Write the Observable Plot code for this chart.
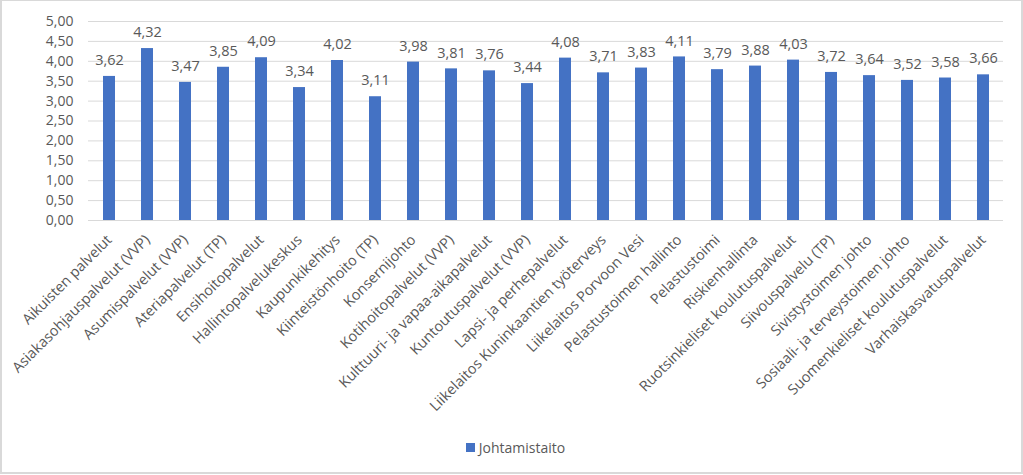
<!DOCTYPE html>
<html>
<head>
<meta charset="utf-8">
<script src="https://cdn.jsdelivr.net/npm/d3@7"></script>
<script src="https://cdn.jsdelivr.net/npm/@observablehq/plot@0.6"></script>
<style>
  html, body { margin: 0; padding: 0; background: #fff; }
  #frame {
    position: absolute; left: 0; top: 0;
    width: 1019px; height: 471px;
    border: 1px solid #d9d9d9; border-width: 1px 2px 2px 2px;
    background: #fff; font-family: "Open Sans", sans-serif;
  }
  #legend {
    height: 32px; display: flex; align-items: center; justify-content: center;
    font-size: 14px; color: #595959; padding-left: 8px;
  }
  #legend .sw { width: 9px; height: 9px; background: #4472C4; margin-right: 4px; display: inline-block; }
</style>
</head>
<body>
<div id="frame">
  <div id="chart"></div>
  <div id="legend"><span class="sw"></span><span id="legendText"></span></div>
</div>
<script>
const categories = [
  "Aikuisten palvelut",
  "Asiakasohjauspalvelut (VVP)",
  "Asumispalvelut (VVP)",
  "Ateriapalvelut (TP)",
  "Ensihoitopalvelut",
  "Hallintopalvelukeskus",
  "Kaupunkikehitys",
  "Kiinteistönhoito (TP)",
  "Konsernijohto",
  "Kotihoitopalvelut (VVP)",
  "Kulttuuri- ja vapaa-aikapalvelut",
  "Kuntoutuspalvelut (VVP)",
  "Lapsi- ja perhepalvelut",
  "Liikelaitos Kuninkaantien työterveys",
  "Liikelaitos Porvoon Vesi",
  "Pelastustoimen hallinto",
  "Pelastustoimi",
  "Riskienhallinta",
  "Ruotsinkieliset koulutuspalvelut",
  "Siivouspalvelu (TP)",
  "Sivistystoimen johto",
  "Sosiaali- ja terveystoimen johto",
  "Suomenkieliset koulutuspalvelut",
  "Varhaiskasvatuspalvelut"
];
const values = [3.62, 4.32, 3.47, 3.85, 4.09, 3.34, 4.02, 3.11, 3.98, 3.81, 3.76, 3.44,
                4.08, 3.71, 3.83, 4.11, 3.79, 3.88, 4.03, 3.72, 3.64, 3.52, 3.58, 3.66];
const seriesName = "Johtamistaito";
const yTicks = [0, 0.5, 1, 1.5, 2, 2.5, 3, 3.5, 4, 4.5, 5];

const data = categories.map((c, i) => ({category: c, value: values[i]}));
const fmt = v => v.toFixed(2).replace(".", ",");

const chart = Plot.plot({
  width: 1019,
  height: 430,
  marginLeft: 86,
  marginRight: 18,
  marginTop: 20,
  marginBottom: 211,
  style: {fontFamily: "'Open Sans', sans-serif", color: "#595959", background: "#fff"},
  x: {domain: categories, paddingInner: 0.69, paddingOuter: 0.345, label: null},
  y: {domain: [0, 5], label: null},
  marks: [
    Plot.gridY(yTicks, {stroke: "#d9d9d9", strokeOpacity: 1}),
    Plot.axisY({ticks: yTicks, tickFormat: fmt, tickSize: 0, tickPadding: 15, fontSize: 14, fill: "#595959", label: null}),
    Plot.axisX({tickSize: 0, tickPadding: 17, tickRotate: -45, fontSize: 14.5, fill: "#595959", label: null}),
    Plot.barY(data, {x: "category", y: "value", fill: "#4472C4"}),
    Plot.text(data, {x: "category", y: "value", text: d => fmt(d.value), dy: -16, fontSize: 14.5, fill: "#595959"})
  ]
});
document.getElementById("chart").appendChild(chart);
document.getElementById("legendText").textContent = seriesName;
</script>
</body>
</html>
